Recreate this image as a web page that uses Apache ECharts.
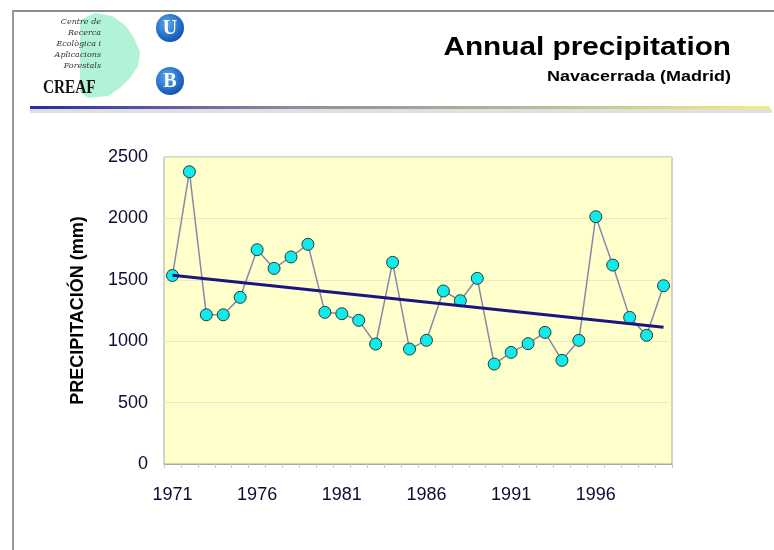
<!DOCTYPE html>
<html>
<head>
<meta charset="utf-8">
<script src="https://cdn.jsdelivr.net/npm/echarts@6/dist/echarts.min.js"></script>
<style>
html,body{margin:0;padding:0;background:#fff;}
#chart{width:774px;height:550px;}
</style>
</head>
<body>
<div id="chart"></div>
<script>
const years = ['1971','1972','1973','1974','1975','1976','1977','1978','1979','1980',
  '1981','1982','1983','1984','1985','1986','1987','1988','1989','1990',
  '1991','1992','1993','1994','1995','1996','1997','1998','1999','2000'];
const precipitation = [1535, 2380, 1215, 1215, 1357, 1745, 1593, 1686, 1789, 1235,
  1224, 1170, 977, 1642, 936, 1007, 1409, 1330, 1512, 814,
  909, 980, 1072, 844, 1007, 2014, 1620, 1194, 1048, 1452];
const trendYears = ['1971', '2000'];
const trendValues = [1538, 1113];
const yTicks = [0, 500, 1000, 1500, 2000, 2500];

const chart = echarts.init(document.getElementById('chart'), null, {renderer: 'canvas'});
const font = '"Liberation Sans", Arial, sans-serif';

const option = {
  animation: false,
  backgroundColor: '#ffffff',
  grid: {left: 164, top: 157, width: 508, height: 307, show: true,
         backgroundColor: '#ffffcc', borderColor: '#a8a8a0', borderWidth: 1},
  xAxis: {
    type: 'category', data: years, boundaryGap: true,
    axisLine: {show: true, lineStyle: {color: '#a8a8a0', width: 1}},
    axisTick: {show: true, interval: 0, length: 4, lineStyle: {color: '#c8c8c0'}},
    axisLabel: {interval: 4, margin: 22, fontFamily: font, fontSize: 18, color: '#0c0c34'},
    splitLine: {show: false}
  },
  yAxis: {
    type: 'value', min: yTicks[0], max: yTicks[yTicks.length - 1], interval: 500,
    name: 'PRECIPITACIÓN (mm)', nameLocation: 'middle', nameRotate: 90, nameGap: 77,
    nameTextStyle: {fontFamily: font, fontSize: 18, fontWeight: 'bold', color: '#000'},
    axisLine: {show: false},
    axisTick: {show: false},
    axisLabel: {margin: 16, fontFamily: font, fontSize: 18, color: '#0c0c34',
                formatter: v => String(v)},
    splitLine: {show: true, lineStyle: {color: '#ebe9c4', width: 1}}
  },
  series: [
    {
      type: 'line', data: precipitation, z: 3,
      symbol: 'circle', symbolSize: 12, showSymbol: true, showAllSymbol: true,
      lineStyle: {color: '#8a88a8', width: 1.5},
      itemStyle: {color: '#11eaea', borderColor: '#2a3a3a', borderWidth: 1}
    },
    {
      type: 'line', data: trendYears.map((y, i) => [y, trendValues[i]]), z: 4,
      symbol: 'none',
      lineStyle: {color: '#1c1580', width: 3}
    }
  ],
  graphic: [
    // slide frame
    {type: 'line', shape: {x1: 12, y1: 11, x2: 774, y2: 11}, style: {stroke: '#8c8c8c', lineWidth: 2}},
    {type: 'line', shape: {x1: 13, y1: 10, x2: 13, y2: 550}, style: {stroke: '#9a9a9a', lineWidth: 2}},
    // titles (horizontally stretched like the reference slide)
    {type: 'text', x: 731, y: 61, scaleX: 1.19, scaleY: 1,
     style: {text: 'Annual precipitation', fontFamily: font, fontSize: 25, fontWeight: 'bold',
             fill: '#000', align: 'right', verticalAlign: 'bottom'}},
    {type: 'text', x: 731, y: 84, scaleX: 1.2, scaleY: 1,
     style: {text: 'Navacerrada (Madrid)', fontFamily: font, fontSize: 15, fontWeight: 'bold',
             fill: '#000', align: 'right', verticalAlign: 'bottom'}},
    // gradient rule
    {type: 'rect', shape: {x: 30, y: 109, width: 742, height: 4},
     style: {fill: 'rgba(0,0,0,0.12)'}},
    {type: 'rect', shape: {x: 30, y: 106, width: 740, height: 3},
     style: {fill: {type: 'linear', x: 0, y: 0, x2: 1, y2: 0, colorStops: [
       {offset: 0, color: '#2c2aa8'}, {offset: 0.35, color: '#8c8c9c'},
       {offset: 0.65, color: '#b4b49c'}, {offset: 1, color: '#f0f080'}]}}},
    // CREAF logo blob
    {type: 'polygon', shape: {points: [[80,20],[95,13],[112,16],[126,26],[134,38],[140,52],[138,66],[130,78],[120,88],[108,96],[88,98],[80,92]]},
     style: {fill: '#b2f2d6'}},
    {type: 'text', x: 101, y: 16, style: {text: 'Centre de\nRecerca\nEcològica i\nAplicacions\nForestals', fontFamily: '"DejaVu Serif", serif', fontStyle: 'italic', fontSize: 8, lineHeight: 11, fill: '#333', align: 'right'}},
    {type: 'text', x: 43, y: 79, scaleX: 0.85, style: {text: 'CREAF', fontFamily: '"Liberation Serif", serif', fontWeight: 'bold', fontSize: 18, fill: '#111'}},
    // U and B logos
    {type: 'circle', shape: {cx: 170, cy: 28, r: 14},
     style: {fill: {type: 'radial', x: 0.4, y: 0.35, r: 0.7, colorStops: [{offset: 0, color: '#5aa8f0'}, {offset: 1, color: '#0a50b0'}]}}},
    {type: 'text', x: 170, y: 29, style: {text: 'U', fontFamily: '"Liberation Serif", serif', fontWeight: 'bold', fontSize: 20, fill: '#fff', align: 'center', verticalAlign: 'middle'}},
    {type: 'circle', shape: {cx: 170, cy: 81, r: 14},
     style: {fill: {type: 'radial', x: 0.4, y: 0.35, r: 0.7, colorStops: [{offset: 0, color: '#5aa8f0'}, {offset: 1, color: '#0a50b0'}]}}},
    {type: 'text', x: 170, y: 82, style: {text: 'B', fontFamily: '"Liberation Serif", serif', fontWeight: 'bold', fontSize: 20, fill: '#fff', align: 'center', verticalAlign: 'middle'}}
  ]
};
chart.setOption(option);
</script>
</body>
</html>
